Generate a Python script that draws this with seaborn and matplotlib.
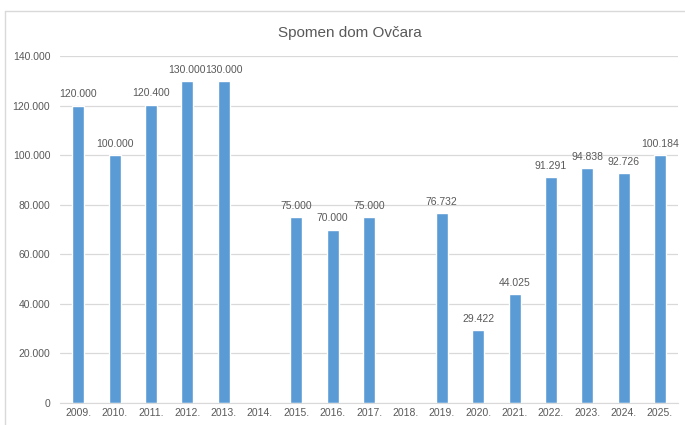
import numpy as np
import pandas as pd
import matplotlib
matplotlib.use("Agg")
import matplotlib.pyplot as plt
import seaborn as sns
from matplotlib.lines import Line2D
from matplotlib.ticker import FuncFormatter

# podaci
godine = ['2009.', '2010.', '2011.', '2012.', '2013.', '2014.', '2015.', '2016.', '2017.',
          '2018.', '2019.', '2020.', '2021.', '2022.', '2023.', '2024.', '2025.']
iznosi = [120000, 100000, 120400, 130000, 130000, np.nan, 75000, 70000, 75000,
          np.nan, 76732, 29422, 44025, 91291, 94838, 92726, 100184]
y_ticks = [0, 20000, 40000, 60000, 80000, 100000, 120000, 140000]

df = pd.DataFrame({'godina': godine, 'iznos': iznosi})

def fmt(v):
    return f"{int(v):,}".replace(',', '.')

sns.set_style('white')
plt.rcParams['font.family'] = ['Liberation Sans', 'DejaVu Sans']

siva = '#595959'
fig = plt.figure(figsize=(6.85, 4.25), dpi=100)
ax = fig.add_axes([0.0876, 0.052, 0.9024, 0.816])

sns.barplot(data=df, x='godina', y='iznos', order=godine, color='#5B9BD5',
            width=0.33, saturation=1, ax=ax)

# oznake iznad stupaca
for i, v in enumerate(iznosi):
    if not np.isnan(v):
        ax.text(i, v + 2500, fmt(v), ha='center', va='bottom', fontsize=7.5, color=siva)

ax.set_ylim(0, 140000)
ax.set_xlim(-0.5, len(godine) - 0.5)
ax.set_yticks(y_ticks)
ax.yaxis.set_major_formatter(FuncFormatter(lambda v, p: fmt(v)))
ax.grid(axis='y', color='#D9D9D9', linewidth=0.9)
ax.set_axisbelow(True)
for s in ['top', 'right', 'left']:
    ax.spines[s].set_visible(False)
ax.spines['bottom'].set_color('#D9D9D9')
ax.tick_params(axis='both', length=0, labelsize=7.5, labelcolor=siva)
ax.tick_params(axis='x', pad=4)
ax.tick_params(axis='y', pad=7)
ax.set_xlabel('')
ax.set_ylabel('')

fig.text(0.511, 0.922, 'Spomen dom Ovčara', ha='center', va='center', fontsize=11, color=siva)

# okvir grafikona (odrezan desno i dolje)
fig.add_artist(Line2D([5/685, 5/685], [0, 1 - 11/425], color='#D9D9D9', linewidth=1))
fig.add_artist(Line2D([5/685, 1], [1 - 11/425, 1 - 11/425], color='#D9D9D9', linewidth=1))

fig.savefig('out.png', dpi=100)
